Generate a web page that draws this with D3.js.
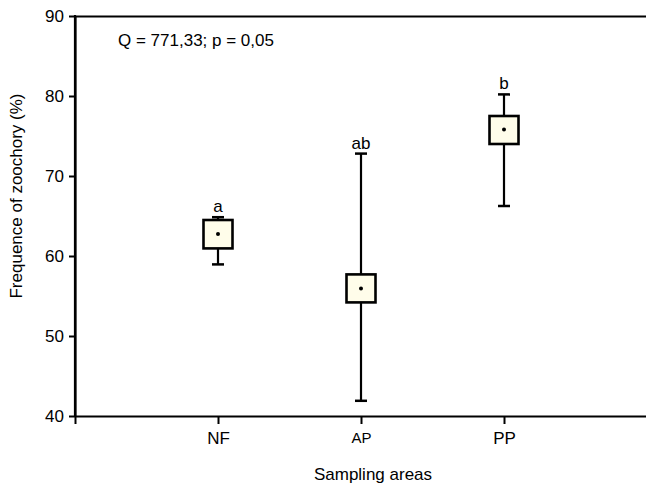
<!DOCTYPE html>
<html>
<head>
<meta charset="utf-8">
<script src="https://cdn.jsdelivr.net/npm/d3@7"></script>
<style>
  html, body { margin: 0; padding: 0; background: #fff; }
  svg text { font-family: "Liberation Sans", Arial, Helvetica, sans-serif; fill: #000; }
</style>
</head>
<body>
<svg id="chart" width="646" height="483"></svg>
<script>
// Data
const categories = ["NF", "AP", "PP"];
const whiskerHigh = [64.85, 72.8, 80.2];
const boxHigh = [64.5, 57.7, 77.5];
const centerValue = [62.75, 55.95, 75.8];
const boxLow = [60.95, 54.2, 74.0];
const whiskerLow = [58.95, 41.9, 66.25];
const groupLetters = ["a", "ab", "b"];
const yTicks = [40, 50, 60, 70, 80, 90];
const annotation = "Q = 771,33; p = 0,05";
const xTitle = "Sampling areas";
const yTitle = "Frequence of zoochory (%)";

const svg = d3.select("#chart");
const mLeft = 75, mRight = 647, mTop = 16, mBottom = 416;

const x = d3.scaleLinear().domain([0, 4]).range([mLeft, mRight]);
const y = d3.scaleLinear().domain([40, 90]).range([mBottom, mTop]);

const fs = 17;

// Left axis
const gy = svg.append("g").attr("transform", `translate(${mLeft},0)`)
  .call(d3.axisLeft(y).tickValues(yTicks).tickSize(6).tickSizeOuter(0).tickPadding(5));
gy.select(".domain").attr("stroke-width", 2.2);
gy.selectAll(".tick line").attr("stroke-width", 2);
gy.selectAll(".tick text").attr("font-size", fs).attr("font-family", null).attr("dy", "0.34em");

// Bottom axis
const gx = svg.append("g").attr("transform", `translate(0,${mBottom})`)
  .call(d3.axisBottom(x).tickValues([0, 1, 2, 3]).tickSize(8).tickSizeOuter(0).tickPadding(8)
    .tickFormat(i => i === 0 ? "" : categories[i - 1]));
gx.select(".domain").attr("stroke-width", 2.2);
gx.selectAll(".tick line").attr("stroke-width", 2);
gx.selectAll(".tick text").attr("font-family", null)
  .attr("font-size", i => categories[i - 1] === "AP" ? 15 : fs);

// Top frame line
const gt = svg.append("g").attr("transform", `translate(0,${mTop})`)
  .call(d3.axisTop(x).tickValues([]).tickSizeOuter(0));
gt.select(".domain").attr("stroke-width", 2.2);

// Extend left axis line slightly above top
svg.append("line").attr("x1", mLeft).attr("x2", mLeft).attr("y1", mTop - 1).attr("y2", mBottom)
  .attr("stroke", "#000").attr("stroke-width", 2.2);

// Boxes
const capW = 12, boxW = 29;
const groups = svg.append("g").selectAll("g").data(categories).join("g")
  .attr("transform", (d, i) => `translate(${x(i + 1)},0)`);

groups.append("line")
  .attr("x1", 0).attr("x2", 0)
  .attr("y1", (d, i) => y(whiskerHigh[i])).attr("y2", (d, i) => y(whiskerLow[i]))
  .attr("stroke", "#000").attr("stroke-width", 2.2);
groups.append("line")
  .attr("x1", -capW / 2).attr("x2", capW / 2)
  .attr("y1", (d, i) => y(whiskerHigh[i])).attr("y2", (d, i) => y(whiskerHigh[i]))
  .attr("stroke", "#000").attr("stroke-width", 2.5);
groups.append("line")
  .attr("x1", -capW / 2).attr("x2", capW / 2)
  .attr("y1", (d, i) => y(whiskerLow[i])).attr("y2", (d, i) => y(whiskerLow[i]))
  .attr("stroke", "#000").attr("stroke-width", 2.5);
groups.append("rect")
  .attr("x", -boxW / 2).attr("width", boxW)
  .attr("y", (d, i) => y(boxHigh[i]))
  .attr("height", (d, i) => y(boxLow[i]) - y(boxHigh[i]))
  .attr("fill", "#fffdea").attr("stroke", "#000").attr("stroke-width", 2.6);
groups.append("circle")
  .attr("cx", 0).attr("cy", (d, i) => y(centerValue[i])).attr("r", 2)
  .attr("fill", "#000");
groups.append("text")
  .attr("x", 0).attr("y", (d, i) => y(whiskerHigh[i]) - 5)
  .attr("text-anchor", "middle").attr("font-size", fs)
  .text((d, i) => groupLetters[i]);

// Annotation
svg.append("text").attr("x", 118).attr("y", 46).attr("font-size", fs).text(annotation);

// Axis titles
svg.append("text").attr("x", 373).attr("y", 480)
  .attr("text-anchor", "middle").attr("font-size", fs).text(xTitle);
svg.append("text").attr("transform", `translate(22,196) rotate(-90)`)
  .attr("text-anchor", "middle").attr("font-size", fs).text(yTitle);
</script>
</body>
</html>
